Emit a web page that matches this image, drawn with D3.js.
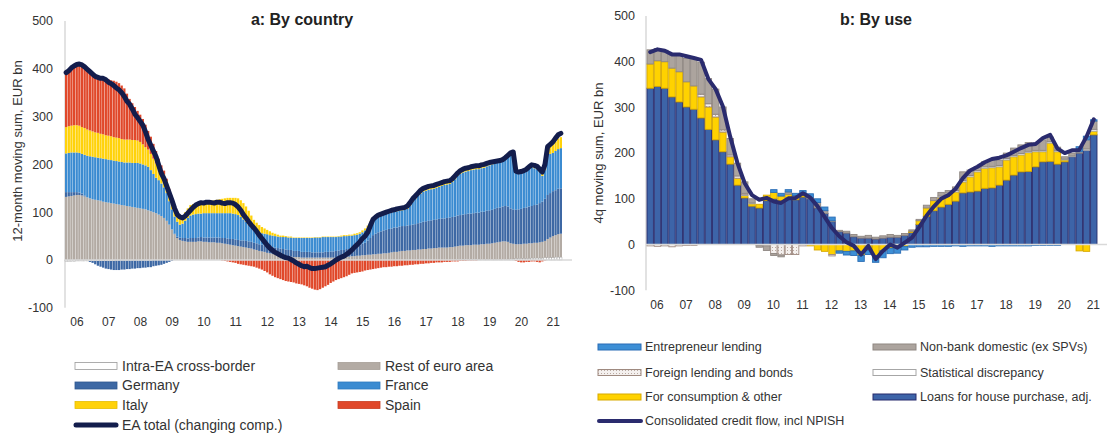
<!DOCTYPE html>
<html lang="en">
<head>
  <meta charset="UTF-8">
  <title>Credit flows by country and by use</title>
  <script src="https://cdn.jsdelivr.net/npm/d3@7"></script>
  <style>
    body { margin: 0; background: #fff; }
    text { font-family: "Liberation Sans", Arial, sans-serif; fill: #333; }
  </style>
</head>
<body>
  <div id="chart"></div>

  <script>
    const width = 1112,
      height = 433;

    const yearLabels = ['06', '07', '08', '09', '10', '11', '12', '13', '14', '15', '16', '17', '18', '19', '20', '21'];

    // ---- panel a: 12-month moving sums, monthly Jan 2006 - Aug 2021 (one line per year)
    const intraEA = [
      -3, -3, -3, -3, -2, -2, -2, -2, -2, -2, -2, -2,
      -2, -2, -2, -2, -2, -2, -2, -1, -1, -1, -1, -1,
      -1, -1, -1, -1, -1, -1, -1, -1, -1, 0, 0, 0,
      0, 0, 0, 0, 0, 0, 0, 0, 0, 0, 0, 0,
      0, 0, 0, 0, 0, 0, 0, 0, 0, 0, 0, 0,
      0, 0, 0, 0, 0, 0, 0, 0, 0, 0, 0, 0,
      0, 0, 0, 0, 0, 0, 0, 0, 0, 0, 0, 0,
      0, 0, 0, 0, 0, 0, 0, 0, 0, 0, 0, 0,
      0, 0, 0, 0, 0, 0, 0, 0, 0, 0, 0, 0,
      0, 0, 0, 0, 0, 0, 0, 0, 0, 0, 0, 0,
      0, 0, 0, 0, 0, 0, 0, 0, 0, 0, 0, 0,
      0, 0, 0, 0, 0, 0, 0, 0, 0, 0, 0, 0,
      0, 0, 0, 0, 1, 1, 1, 1, 1, 1, 1, 1,
      1, 1, 1, 1, 1, 1, 1, 1, 1, 1, 1, 1,
      2, 2, 3, 3, 3, 3, 3, 3, 4, 4, 4, 4,
      4, 5, 5, 5, 5, 6, 6, 6
    ];
    const restEA = [
      132, 133, 134, 135, 136, 136, 135, 133, 131, 129, 127, 126,
      125, 124, 122, 121, 120, 119, 118, 117, 116, 115, 114, 113,
      112, 111, 110, 109, 108, 107, 106, 104, 102, 100, 98, 95,
      92, 88, 82, 74, 64, 54, 46, 42, 40, 39, 38, 38,
      38, 38, 39, 39, 38, 38, 37, 37, 37, 36, 36, 35,
      34, 33, 32, 31, 30, 29, 28, 27, 26, 25, 24, 22,
      21, 19, 18, 17, 15, 14, 13, 12, 11, 10, 9, 8,
      7, 7, 6, 6, 6, 5, 5, 5, 5, 5, 5, 5,
      5, 5, 5, 5, 5, 5, 5, 6, 6, 6, 7, 7,
      8, 8, 9, 9, 10, 10, 11, 11, 12, 12, 13, 13,
      14, 14, 15, 16, 17, 17, 18, 19, 19, 20, 20, 21,
      21, 22, 22, 23, 23, 24, 24, 25, 25, 26, 26, 26,
      26, 27, 27, 28, 28, 29, 29, 30, 30, 30, 31, 31,
      31, 32, 32, 33, 33, 34, 35, 36, 37, 38, 38, 37,
      33, 32, 30, 30, 30, 31, 31, 32, 31, 32, 32, 33,
      34, 35, 39, 42, 45, 46, 48, 49
    ];
    const germany = [
      10, 9, 8, 7, 6, 5, 4, 2, 0, -2, -4, -7,
      -10, -12, -14, -16, -17, -18, -19, -20, -20, -19, -19, -18,
      -18, -17, -17, -16, -16, -15, -15, -14, -14, -13, -12, -11,
      -10, -8, -6, -4, -2, 1, 3, 5, 6, 7, 7, 8,
      8, 8, 8, 9, 9, 9, 10, 10, 10, 11, 11, 11,
      12, 12, 12, 13, 13, 13, 13, 14, 14, 14, 14, 14,
      14, 14, 14, 14, 14, 14, 14, 14, 14, 14, 14, 14,
      14, 14, 13, 13, 13, 12, 12, 12, 12, 11, 11, 11,
      11, 11, 12, 12, 13, 13, 14, 14, 15, 15, 16, 16,
      17, 18, 20, 22, 24, 26, 30, 35, 40, 43, 45, 47,
      48, 49, 50, 50, 51, 51, 52, 52, 52, 52, 53, 53,
      54, 55, 56, 57, 58, 58, 59, 59, 60, 60, 61, 61,
      62, 62, 63, 63, 64, 64, 65, 65, 66, 66, 66, 67,
      67, 68, 68, 69, 70, 70, 71, 72, 72, 73, 74, 74,
      73, 72, 72, 73, 74, 75, 76, 77, 78, 79, 80, 82,
      84, 88, 92, 93, 94, 94, 95, 95
    ];
    const france = [
      81, 82, 83, 83, 83, 83, 83, 85, 87, 88, 89, 89,
      89, 89, 90, 90, 90, 90, 90, 90, 90, 90, 90, 91,
      92, 92, 93, 94, 94, 93, 92, 91, 86, 80, 74, 72,
      68, 64, 58, 49, 42, 36, 31, 27, 30, 36, 43, 47,
      49, 50, 50, 49, 51, 51, 51, 51, 51, 51, 51, 52,
      52, 53, 54, 53, 53, 52, 49, 44, 40, 35, 30, 27,
      25, 25, 24, 24, 25, 24, 24, 24, 24, 24, 25, 26,
      26, 26, 27, 27, 27, 29, 29, 29, 29, 30, 31, 31,
      31, 32, 31, 31, 30, 30, 29, 29, 28, 29, 27, 28,
      26, 26, 24, 24, 24, 26, 26, 30, 32, 33, 32, 32,
      33, 34, 33, 34, 33, 34, 33, 33, 34, 35, 41, 48,
      53, 57, 61, 63, 64, 65, 65, 65, 66, 67, 68, 70,
      70, 70, 73, 78, 83, 86, 88, 89, 89, 91, 91, 91,
      91, 91, 92, 93, 94, 95, 94, 94, 95, 96, 99, 105,
      114, 119, 81, 78, 77, 76, 77, 79, 81, 77, 74, 66,
      54, 60, 84, 82, 80, 82, 83, 84
    ];
    const italy = [
      55, 56, 56, 57, 57, 57, 56, 56, 55, 54, 53, 52,
      52, 51, 51, 50, 50, 50, 49, 49, 49, 48, 48, 48,
      48, 48, 48, 47, 45, 42, 38, 36, 34, 32, 30, 29,
      28, 27, 25, 23, 20, 18, 17, 16, 17, 18, 20, 22,
      22, 22, 23, 23, 23, 24, 25, 26, 27, 28, 29, 30,
      31, 32, 32, 33, 34, 35, 35, 34, 32, 29, 25, 21,
      18, 15, 13, 11, 9, 8, 6, 5, 4, 3, 3, 2,
      2, 2, 1, 1, 1, 1, 1, 1, 1, 1, 1, 1,
      1, 1, 1, 1, 1, 1, 1, 1, 2, 2, 2, 2,
      2, 3, 3, 3, 4, 4, 5, 5, 5, 6, 6, 6,
      6, 6, 7, 7, 7, 8, 8, 8, 8, 9, 9, 9,
      9, 9, 10, 10, 10, 10, 10, 10, 10, 10, 10, 10,
      10, 10, 10, 10, 10, 11, 11, 11, 11, 11, 11, 11,
      11, 11, 11, 10, 10, 9, 9, 8, 7, 6, 6, 6,
      5, 4, 3, 3, 4, 5, 6, 7, 8, 9, 9, 8,
      8, 10, 12, 15, 18, 20, 22, 23
    ];
    const spain = [
      112, 116, 121, 124, 126, 127, 127, 126, 125, 123, 122, 121,
      120, 120, 119, 119, 118, 117, 118, 117, 115, 112, 107, 96,
      85, 77, 69, 62, 57, 53, 47, 39, 36, 31, 26, 16,
      10, 8, 5, 3, 2, 1, 0, 0, 0, 0, 0, 0,
      0, 0, 0, 0, 0, 0, 0, 0, 0, 0, 0, -1,
      -2, -3, -4, -5, -6, -8, -9, -10, -11, -12, -13, -14,
      -16, -18, -20, -23, -26, -30, -33, -36, -38, -40, -42, -44,
      -45, -46, -47, -49, -50, -51, -53, -55, -58, -60, -62, -63,
      -61, -58, -55, -52, -48, -45, -42, -40, -38, -36, -34, -31,
      -28, -27, -26, -25, -24, -22, -21, -20, -19, -18, -17, -16,
      -15, -15, -14, -14, -13, -13, -12, -12, -11, -11, -10, -10,
      -9, -9, -8, -8, -7, -7, -6, -6, -5, -5, -5, -4,
      -4, -4, -3, -3, -3, -2, -2, -2, -1, -1, -1, -1,
      0, 0, 0, 0, 0, 0, 0, 0, 0, 0, 0, 0,
      0, 0, -2, -4, -5, -5, -4, -4, -3, -3, -4, -5,
      -3, -1, 0, 0, 0, 0, 0, 0
    ];
    const eaTotal = [
      392, 396, 402, 406, 409, 410, 408, 404, 399, 394, 389, 384,
      382, 380, 380, 377, 372, 369, 365, 360, 356, 350, 342, 332,
      326, 316, 305, 298, 290, 282, 268, 252, 240, 228, 216, 198,
      181, 170, 155, 140, 125, 108, 95, 90, 88, 92, 98, 104,
      110, 115, 118, 120, 119, 121, 121, 120, 119, 121, 121, 119,
      118, 120, 120, 119, 116, 111, 104, 95, 88, 80, 73, 67,
      60, 52, 45, 38, 31, 25, 20, 16, 13, 10, 7, 5,
      4, 1, -2, -6, -9, -12, -14, -13, -16, -18, -18, -17,
      -16, -15, -14, -11, -8, -4, 0, 3, 6, 8, 12, 16,
      21, 27, 32, 38, 45, 50, 58, 72, 85, 90, 94, 96,
      98, 100, 102, 104, 105, 107, 108, 109, 110, 113, 120, 128,
      134, 140, 146, 150, 152, 154, 155, 156, 158, 160, 162, 164,
      165, 166, 170, 176, 182, 187, 190, 192, 193, 195, 196, 197,
      197, 199, 200, 202, 204, 205, 206, 207, 208, 210, 214, 219,
      224, 226, 186, 184, 185, 187, 190, 195, 199, 198, 196, 190,
      184, 200, 237, 242, 247, 255, 262, 265
    ];

    // ---- panel b: 4-quarter moving sums, Q1 2006 - Q2 2021
    const houseLoans = [
      342, 346, 342, 323, 312, 301, 296, 277,
      252, 229, 203, 176, 130, 102, 84, 80,
      96, 100, 96, 102, 98, 104, 100, 80,
      68, 50, 28, 25, 17, 14, 14, 12,
      14, 16, 16, 20, 26, 44, 62, 74,
      82, 88, 95, 113, 115, 117, 123, 124,
      130, 141, 152, 159, 160, 170, 181, 182,
      176, 181, 192, 200, 206, 240
    ];
    const consumption = [
      53, 56, 58, 63, 66, 55, 51, 46,
      49, 50, 43, 16, 15, 5, 5, 8,
      12, 14, 10, 8, 6, 5, -3, -12,
      -15, -22, -14, -15, -14, -24, -12, -24,
      -14, -8, -6, -4, 3, 8, 18, 22,
      21, 22, 20, 24, 33, 42, 44, 44,
      40, 44, 40, 37, 41, 33, 22, 40,
      27, 4, 0, -14, -15, 8
    ];
    const statDiscrepancy = [
      0, 0, 0, 0, 0, 0, 0, 0,
      0, 0, 0, 0, 0, 2, 2, 0,
      0, 0, 0, 0, 0, 0, 0, 0,
      0, 0, 0, 0, 0, 0, 0, 0,
      0, 0, 0, 0, 0, 0, 0, 0,
      3, 3, 3, 3, 3, 3, 3, 3,
      3, 3, 3, 3, 3, 3, 3, 3,
      3, 2, 2, 0, 3, 4
    ];
    const foreignLending = [
      -3, -4, -3, -5, -3, -2, -2, 6,
      7, 6, 5, 4, 5, 3, 0, -2,
      -3, -20, -23, -22, -22, -3, 0, 0,
      0, -3, 0, 0, 0, 0, 0, 0,
      0, 0, 0, 0, 0, 0, 0, 0,
      0, 0, 0, 0, 0, 0, 0, 0,
      0, 0, 0, 0, 0, 0, 0, 0,
      0, 0, 0, 0, 0, 0
    ];
    const nonBank = [
      31, 27, 25, 29, 37, 51, 60, 70,
      55, 55, 50, 36, 28, 25, 9, -4,
      -10, -4, -4, 5, 3, 3, 3, 12,
      6, 2, 3, 4, 5, 4, 6, 4,
      5, 6, 4, 4, 3, 3, 6, 7,
      8, 5, 8, 19, 12, 8, 11, 15,
      12, 12, 16, 19, 19, 16, 23, 10,
      7, 5, 6, 3, 20, 18
    ];
    const entrepreneur = [
      0, 0, 0, 0, 0, 0, 0, 0,
      0, 0, 0, 0, 0, 0, 0, 0,
      0, 6, 6, 5, 5, 6, 8, 8,
      8, 8, -5, -8, -10, -13, -10, -15,
      -15, -12, -13, -8, -6, -5, -5, -4,
      -4, -4, -3, -4, -3, -3, -3, -4,
      -3, -3, -3, -3, -3, -2, -2, -2,
      -2, 0, 0, 11, 8, 3
    ];
    const creditFlow = [
      421, 427, 424, 416, 416, 412, 408, 404,
      362, 340, 302, 236, 178, 134, 108, 98,
      102, 94, 91, 101, 102, 112, 103, 84,
      60, 36, 18, 5, -3, -22, -3, -32,
      -14, 0, -7, 4, 15, 38, 63, 83,
      100, 108, 122, 145, 162, 170, 180, 187,
      190, 195, 203, 211, 218, 220, 233, 240,
      210, 200, 206, 207, 236, 274
    ];

    const yTicks = [-100, 0, 100, 200, 300, 400, 500];

    const svg = d3.select('#chart')
      .append('svg')
        .attr('width', width)
        .attr('height', height);

    const defs = svg.append('defs');
    const pat = defs.append('pattern')
      .attr('id', 'dots')
      .attr('width', 3)
      .attr('height', 3)
      .attr('patternUnits', 'userSpaceOnUse');
    pat.append('rect').attr('width', 3).attr('height', 3).attr('fill', '#f4f0ee');
    pat.append('rect').attr('x', 1).attr('y', 1).attr('width', 1).attr('height', 1).attr('fill', '#b9aaa2');

    // ================= panel a =================
    const monthIdx = d3.range(eaTotal.length);
    const rowsA = monthIdx.map(i => ({
      i: i,
      intra: intraEA[i], rest: restEA[i], germany: germany[i],
      france: france[i], italy: italy[i], spain: spain[i]
    }));
    const keysA = ['intra', 'rest', 'germany', 'france', 'italy', 'spain'];
    const fillA = {intra: '#ffffff', rest: '#b3aba4', germany: '#3d68a4', france: '#3b8bd1', italy: '#ffd20a', spain: '#e0482a'};

    const xA = d3.scaleBand().domain(monthIdx).range([65, 562]).paddingInner(0.14);
    const yA = d3.scaleLinear().domain([-100, 500]).range([307.8, 21]);

    const stackA = d3.stack().keys(keysA).offset(d3.stackOffsetDiverging)(rowsA);

    const gA = svg.append('g');

    gA.append('line')
      .attr('x1', 65).attr('x2', 65)
      .attr('y1', yA(500)).attr('y2', yA(-100))
      .attr('stroke', '#d9d9d9').attr('stroke-width', 1.5);

    gA.selectAll('g.series')
      .data(stackA)
      .join('g')
        .attr('fill', d => fillA[d.key])
        .attr('stroke', d => d.key === 'intra' ? '#9a9a9a' : 'none')
        .attr('stroke-width', 0.4)
      .selectAll('rect')
      .data(d => d)
      .join('rect')
        .attr('x', d => xA(d.data.i))
        .attr('width', xA.bandwidth())
        .attr('y', d => yA(Math.max(d[0], d[1])))
        .attr('height', d => Math.abs(yA(d[0]) - yA(d[1])));

    gA.append('line')
      .attr('x1', 65).attr('x2', 572)
      .attr('y1', yA(0)).attr('y2', yA(0))
      .attr('stroke', '#d9d9d9').attr('stroke-width', 1.5);

    gA.append('path')
      .datum(monthIdx)
      .attr('fill', 'none')
      .attr('stroke', '#131d4c')
      .attr('stroke-width', 5)
      .attr('stroke-linejoin', 'round')
      .attr('stroke-linecap', 'round')
      .attr('d', d3.line()
        .x(i => xA(i) + xA.bandwidth() / 2)
        .y(i => yA(eaTotal[i])));

    gA.selectAll('text.ytick')
      .data(yTicks)
      .join('text')
        .attr('x', 53)
        .attr('y', d => yA(d))
        .attr('dy', '0.35em')
        .attr('text-anchor', 'end')
        .style('font-size', '12.5px')
        .text(d => d);

    gA.selectAll('text.xtick')
      .data(yearLabels)
      .join('text')
        .attr('x', (d, k) => xA(k * 12) + 12)
        .attr('y', 322)
        .attr('dy', '0.35em')
        .attr('text-anchor', 'middle')
        .style('font-size', '12px')
        .text(d => d);

    gA.append('text')
      .attr('transform', 'translate(17,151) rotate(-90)')
      .attr('text-anchor', 'middle')
      .attr('dy', '0.35em')
      .style('font-size', '13px')
      .text('12-month moving sum, EUR bn');

    gA.append('text')
      .attr('x', 302).attr('y', 25)
      .attr('text-anchor', 'middle')
      .style('font-size', '16px')
      .style('font-weight', 'bold')
      .style('fill', '#222')
      .text('a: By country');

    const legendA = [
      {label: 'Intra-EA cross-border', key: 'intra', col: 0, row: 0},
      {label: 'Rest of euro area', key: 'rest', col: 1, row: 0},
      {label: 'Germany', key: 'germany', col: 0, row: 1},
      {label: 'France', key: 'france', col: 1, row: 1},
      {label: 'Italy', key: 'italy', col: 0, row: 2},
      {label: 'Spain', key: 'spain', col: 1, row: 2}
    ];
    const legStrokeA = {intra: '#9a9a9a', rest: '#a69e97', germany: '#2f5790', france: '#2f7cc0', italy: '#e6bd00', spain: '#c93d20'};
    const lgA = gA.append('g');
    const rowYA = [366, 385.5, 405, 425];
    legendA.forEach(d => {
      const x0 = d.col === 0 ? 75 : 338;
      lgA.append('rect')
        .attr('x', x0).attr('y', rowYA[d.row] - 3.5)
        .attr('width', 42).attr('height', 7)
        .attr('fill', fillA[d.key])
        .attr('stroke', legStrokeA[d.key]).attr('stroke-width', 0.8);
      lgA.append('text')
        .attr('x', x0 + 47).attr('y', rowYA[d.row])
        .attr('dy', '0.35em')
        .style('font-size', '14px')
        .text(d.label);
    });
    lgA.append('line')
      .attr('x1', 76).attr('x2', 116)
      .attr('y1', rowYA[3]).attr('y2', rowYA[3])
      .attr('stroke', '#131d4c').attr('stroke-width', 5).attr('stroke-linecap', 'round');
    lgA.append('text')
      .attr('x', 122).attr('y', rowYA[3])
      .attr('dy', '0.35em')
      .style('font-size', '14px')
      .text('EA total (changing comp.)');

    // ================= panel b =================
    const qIdx = d3.range(creditFlow.length);
    const rowsB = qIdx.map(i => ({
      i: i,
      loans: houseLoans[i], cons: consumption[i], stat: statDiscrepancy[i],
      foreign: foreignLending[i], nonbank: nonBank[i], entre: entrepreneur[i]
    }));
    const keysB = ['loans', 'cons', 'stat', 'foreign', 'nonbank', 'entre'];
    const fillB = {loans: '#3d64a8', cons: '#ffd200', stat: '#ffffff', foreign: 'url(#dots)', nonbank: '#aca49e', entre: '#3d8fd6'};
    const strokeB = {loans: '#272a6c', cons: '#d8a900', stat: '#a6a6a6', foreign: '#9f8a80', nonbank: '#8f8782', entre: '#2a6db5'};

    const xB = d3.scaleBand().domain(qIdx).range([647, 1097]).paddingInner(0.12);
    const yB = d3.scaleLinear().domain([-100, 500]).range([290.2, 16]);

    const stackB = d3.stack().keys(keysB).offset(d3.stackOffsetDiverging)(rowsB);

    const gB = svg.append('g');

    gB.append('line')
      .attr('x1', 646).attr('x2', 646)
      .attr('y1', yB(500)).attr('y2', yB(-100))
      .attr('stroke', '#d9d9d9').attr('stroke-width', 1.5);

    gB.selectAll('g.series')
      .data(stackB)
      .join('g')
        .attr('fill', d => fillB[d.key])
        .attr('stroke', d => strokeB[d.key])
        .attr('stroke-width', 0.9)
      .selectAll('rect')
      .data(d => d.filter(p => p[1] !== p[0]))
      .join('rect')
        .attr('x', d => xB(d.data.i))
        .attr('width', xB.bandwidth())
        .attr('y', d => yB(Math.max(d[0], d[1])))
        .attr('height', d => Math.abs(yB(d[0]) - yB(d[1])));

    gB.append('line')
      .attr('x1', 646).attr('x2', 1107)
      .attr('y1', yB(0)).attr('y2', yB(0))
      .attr('stroke', '#d9d9d9').attr('stroke-width', 1.5);

    gB.append('path')
      .datum(qIdx)
      .attr('fill', 'none')
      .attr('stroke', '#2a2b6e')
      .attr('stroke-width', 4)
      .attr('stroke-linejoin', 'round')
      .attr('stroke-linecap', 'round')
      .attr('d', d3.line()
        .x(i => xB(i) + xB.bandwidth() / 2)
        .y(i => yB(creditFlow[i])));

    gB.selectAll('text.ytick')
      .data(yTicks)
      .join('text')
        .attr('x', 635)
        .attr('y', d => yB(d))
        .attr('dy', '0.35em')
        .attr('text-anchor', 'end')
        .style('font-size', '12.5px')
        .text(d => d);

    gB.selectAll('text.xtick')
      .data(yearLabels)
      .join('text')
        .attr('x', (d, k) => xB(k * 4) + 10)
        .attr('y', 305)
        .attr('dy', '0.35em')
        .attr('text-anchor', 'middle')
        .style('font-size', '12px')
        .text(d => d);

    gB.append('text')
      .attr('transform', 'translate(598,153) rotate(-90)')
      .attr('text-anchor', 'middle')
      .attr('dy', '0.35em')
      .style('font-size', '13px')
      .text('4q moving sum, EUR bn');

    gB.append('text')
      .attr('x', 876).attr('y', 25)
      .attr('text-anchor', 'middle')
      .style('font-size', '16px')
      .style('font-weight', 'bold')
      .style('fill', '#222')
      .text('b: By use');

    const legendB = [
      {label: 'Entrepreneur lending', key: 'entre', col: 0, row: 0},
      {label: 'Non-bank domestic (ex SPVs)', key: 'nonbank', col: 1, row: 0},
      {label: 'Foreign lending and bonds', key: 'foreign', col: 0, row: 1},
      {label: 'Statistical discrepancy', key: 'stat', col: 1, row: 1},
      {label: 'For consumption & other', key: 'cons', col: 0, row: 2},
      {label: 'Loans for house purchase, adj.', key: 'loans', col: 1, row: 2}
    ];
    const rowYB = [347, 372.5, 397, 421];
    const lgB = gB.append('g');
    legendB.forEach(d => {
      const x0 = d.col === 0 ? 598 : 873;
      lgB.append('rect')
        .attr('x', x0).attr('y', rowYB[d.row] - 3)
        .attr('width', 43).attr('height', 6)
        .attr('fill', fillB[d.key])
        .attr('stroke', strokeB[d.key]).attr('stroke-width', 1);
      lgB.append('text')
        .attr('x', x0 + 47).attr('y', rowYB[d.row])
        .attr('dy', '0.35em')
        .style('font-size', '12.5px')
        .text(d.label);
    });
    lgB.append('line')
      .attr('x1', 599).attr('x2', 641)
      .attr('y1', rowYB[3]).attr('y2', rowYB[3])
      .attr('stroke', '#2a2b6e').attr('stroke-width', 4).attr('stroke-linecap', 'round');
    lgB.append('text')
      .attr('x', 645).attr('y', rowYB[3])
      .attr('dy', '0.35em')
      .style('font-size', '12.5px')
      .text('Consolidated credit flow, incl NPISH');
  </script>
</body>
</html>
